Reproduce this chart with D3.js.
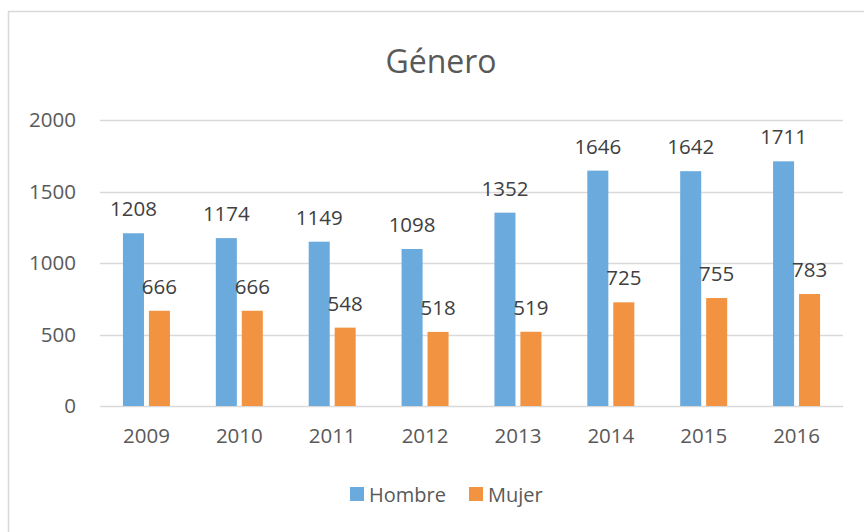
<!DOCTYPE html>
<html>
<head>
<meta charset="utf-8">
<script src="https://cdn.jsdelivr.net/npm/d3@7"></script>
<style>
  html, body { margin: 0; padding: 0; background: #fff; }
  text { font-family: 'Open Sans', sans-serif; fill: #595959; }
</style>
</head>
<body>
<div id="root"></div>
<script>
const years = ['2009', '2010', '2011', '2012', '2013', '2014', '2015', '2016'];
const seriesNames = ['Hombre', 'Mujer'];
const hombre = [1208, 1174, 1149, 1098, 1352, 1646, 1642, 1711];
const mujer = [666, 666, 548, 518, 519, 725, 755, 783];
const yTicks = [0, 500, 1000, 1500, 2000];
const colors = ['#6AAADD', '#F29341'];

const width = 864;
const height = 532;
const plot = { left: 100, right: 843, top: 120, bottom: 406 };

const svg = d3.select('#root').append('svg')
  .attr('width', width)
  .attr('height', height);

// chart area border (runs off the right and bottom edges)
svg.append('rect')
  .attr('x', 8.5)
  .attr('y', 11.5)
  .attr('width', 900)
  .attr('height', 600)
  .attr('fill', 'none')
  .attr('stroke', '#d9d9d9')
  .attr('stroke-width', 1.5);

svg.append('text')
  .attr('x', 441)
  .attr('y', 73)
  .attr('text-anchor', 'middle')
  .style('font-size', '32px')
  .text('Género');

const x0 = d3.scaleBand()
  .domain(years)
  .range([plot.left, plot.right]);

const x1 = d3.scaleBand()
  .domain(seriesNames)
  .range([x0.bandwidth() / 2 - 23.5, x0.bandwidth() / 2 + 23.5])
  .paddingInner(0.19);

const y = d3.scaleLinear()
  .domain([0, 2000])
  .range([plot.bottom, plot.top]);

// gridlines
svg.append('g')
  .selectAll('line')
  .data(yTicks)
  .enter()
  .append('line')
  .attr('x1', plot.left)
  .attr('x2', plot.right)
  .attr('y1', d => Math.round(y(d)) + 0.5)
  .attr('y2', d => Math.round(y(d)) + 0.5)
  .attr('stroke', '#d9d9d9')
  .attr('stroke-width', 1.5);

// y axis labels
const yAxis = d3.axisLeft(y)
  .tickValues(yTicks)
  .tickFormat(d3.format('d'))
  .tickSize(0)
  .tickPadding(24);

svg.append('g')
  .attr('transform', `translate(${plot.left}, 0)`)
  .call(yAxis)
  .call(g => g.select('.domain').remove())
  .call(g => g.selectAll('text')
    .style('font-size', '20.5px')
    .style('font-family', "'Open Sans', sans-serif")
    .attr('fill', '#595959'));

// x axis labels
const xAxis = d3.axisBottom(x0)
  .tickSize(0)
  .tickPadding(22);

svg.append('g')
  .attr('transform', `translate(0, ${plot.bottom})`)
  .call(xAxis)
  .call(g => g.select('.domain').remove())
  .call(g => g.selectAll('text')
    .style('font-size', '20.5px')
    .style('font-family', "'Open Sans', sans-serif")
    .attr('fill', '#595959'));

const rows = years.map((year, i) => ({
  year,
  values: [
    { name: 'Hombre', value: hombre[i], color: colors[0] },
    { name: 'Mujer', value: mujer[i], color: colors[1] },
  ],
}));

const groups = svg.append('g')
  .selectAll('g')
  .data(rows)
  .enter()
  .append('g')
  .attr('transform', d => `translate(${x0(d.year)}, 0)`);

groups.selectAll('rect')
  .data(d => d.values)
  .enter()
  .append('rect')
  .attr('x', d => x1(d.name))
  .attr('y', d => y(d.value))
  .attr('width', x1.bandwidth())
  .attr('height', d => plot.bottom - y(d.value))
  .attr('fill', d => d.color);

groups.selectAll('text')
  .data(d => d.values)
  .enter()
  .append('text')
  .attr('x', d => x1(d.name) + x1.bandwidth() / 2)
  .attr('y', d => y(d.value) - 17)
  .attr('text-anchor', 'middle')
  .style('font-size', '20.5px')
  .style('fill', '#404040')
  .text(d => d.value);

// legend
const legend = svg.append('g')
  .attr('transform', 'translate(350, 487)');

const legendItems = legend.selectAll('g')
  .data(seriesNames)
  .enter()
  .append('g')
  .attr('transform', (d, i) => `translate(${i * 119}, 0)`);

legendItems.append('rect')
  .attr('width', 14)
  .attr('height', 14)
  .attr('fill', (d, i) => colors[i]);

legendItems.append('text')
  .attr('x', 19)
  .attr('y', 15)
  .style('font-size', '20px')
  .text(d => d);
</script>
</body>
</html>
